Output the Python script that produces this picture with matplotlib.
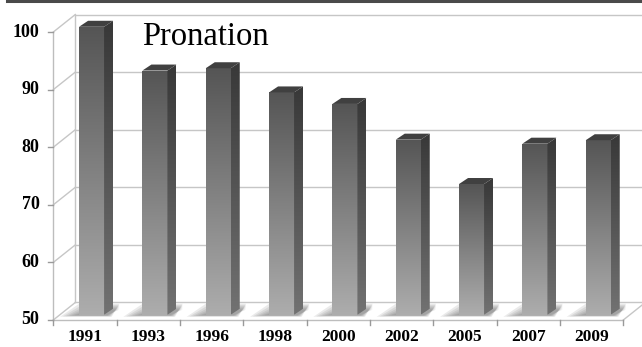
import matplotlib.pyplot as plt
import matplotlib.patches as patches
from matplotlib.colors import LinearSegmentedColormap
import numpy as np

# data
years = ['1991', '1993', '1996', '1998', '2000', '2002', '2005', '2007', '2009']
values = [100, 92.4, 92.8, 88.6, 86.6, 80.4, 72.7, 79.7, 80.3]
yticks = [50, 60, 70, 80, 90, 100]
title = 'Pronation'

fig = plt.figure(figsize=(6.42, 3.47), dpi=100)
ax = fig.add_axes([0, 0, 1, 1])
ax.axis('off')

n = len(years)
x = np.arange(n)
base = yticks[0]
top = yticks[-1]
DX, DY = 0.347, 3.04        # full depth of the floor / walls
grid_c = '#c6c6c6'

front_cm = LinearSegmentedColormap.from_list('front', ['#555555', '#adadad'])
side_cm = LinearSegmentedColormap.from_list('side', ['#383838', '#727272'])

# back wall gridlines and left wall diagonals
for v in yticks:
    ax.plot([-0.5 + DX, n - 0.5 + DX], [v + DY, v + DY], color=grid_c, lw=1, zorder=1)
    ax.plot([-0.5, -0.5 + DX], [v, v + DY], color=grid_c, lw=1, zorder=1)
ax.plot([-0.5 + DX, -0.5 + DX], [base + DY, top + DY], color=grid_c, lw=1, zorder=1)
# floor right edge and front edges
ax.plot([n - 0.5, n - 0.5 + DX], [base, base + DY], color=grid_c, lw=1, zorder=1)
ax.plot([-0.5, n - 0.5], [base, base], color='#bdbdbd', lw=1, zorder=1)
ax.plot([-0.5, -0.5], [base, top], color='#bdbdbd', lw=1, zorder=1)

# ticks
for v in yticks:
    ax.plot([-0.58, -0.5], [v, v], color='#9a9a9a', lw=1, zorder=1)
    ax.text(-0.72, v, str(v), ha='right', va='center', fontsize=13,
            fontweight='bold', family='Liberation Serif')
for i in range(n + 1):
    ax.plot([i - 0.5, i - 0.5], [base, base - 0.85], color='#9a9a9a', lw=1, zorder=1)
for i, yr in enumerate(years):
    ax.text(i, base - 3.0, yr, ha='center', va='center', fontsize=12.5,
            fontweight='bold', family='Liberation Serif')

# bars
w = 0.395
ox, oy = 0.3 * DX, 0.3 * DY
sdx, sdy = 0.142, 1.04
grad = np.linspace(0, 1, 256).reshape(-1, 1)

for i, v in enumerate(values):
    x0 = x[i] + ox - w / 2
    x1 = x[i] + ox + w / 2
    y0 = base + oy
    y1 = v + oy
    # soft floor shadow
    for k in range(6):
        s = 0.30 - k * 0.045
        shadow = patches.Polygon([(x0 - s, y0 - 0.35 + k * 0.05), (x1 + 0.12 - k * 0.015, y0 - 0.35 + k * 0.05),
                                  (x1 + sdx + 0.1, y0 + 1.9 - k * 0.2), (x0 - s + 0.3, y0 + 1.9 - k * 0.2)],
                                 closed=True, facecolor='#5a5a5a', edgecolor='none',
                                 alpha=0.12, zorder=2)
        ax.add_patch(shadow)
    bars = ax.bar(x[i] + ox, v - base, bottom=y0, width=w, color='none',
                  edgecolor='none', zorder=3)
    im = ax.imshow(grad, cmap=front_cm, vmin=0, vmax=1, aspect='auto',
                   extent=(x0, x1, y0, y1), origin='upper', zorder=3)
    im.set_clip_path(bars[0])
    # side face
    side = patches.Polygon([(x1, y0), (x1 + sdx, y0 + sdy), (x1 + sdx, y1 + sdy), (x1, y1)],
                           closed=True, edgecolor='none', facecolor='none', zorder=3)
    ax.add_patch(side)
    im2 = ax.imshow(grad, cmap=side_cm, vmin=0, vmax=1, aspect='auto',
                    extent=(x1, x1 + sdx, y0, y1 + sdy), origin='upper', zorder=3)
    im2.set_clip_path(side)
    # top face
    topf = patches.Polygon([(x0, y1), (x1, y1), (x1 + sdx, y1 + sdy), (x0 + sdx, y1 + sdy)],
                           closed=True, facecolor='#404040', edgecolor='none', zorder=4)
    ax.add_patch(topf)

ax.set_xlim(-1.342, 8.795)
ax.set_ylim(45.31, 105.56)

ax.text(0.9, 97.7, title, fontsize=23.5, family='Liberation Serif', ha='left',
        va='baseline', zorder=5)

# dark rule at the very top
fig.add_artist(plt.Line2D([7 / 642, 1], [1 - 1 / 347, 1 - 1 / 347], color='#4a4a4a', lw=2.2))

fig.savefig('out.png', dpi=100)
